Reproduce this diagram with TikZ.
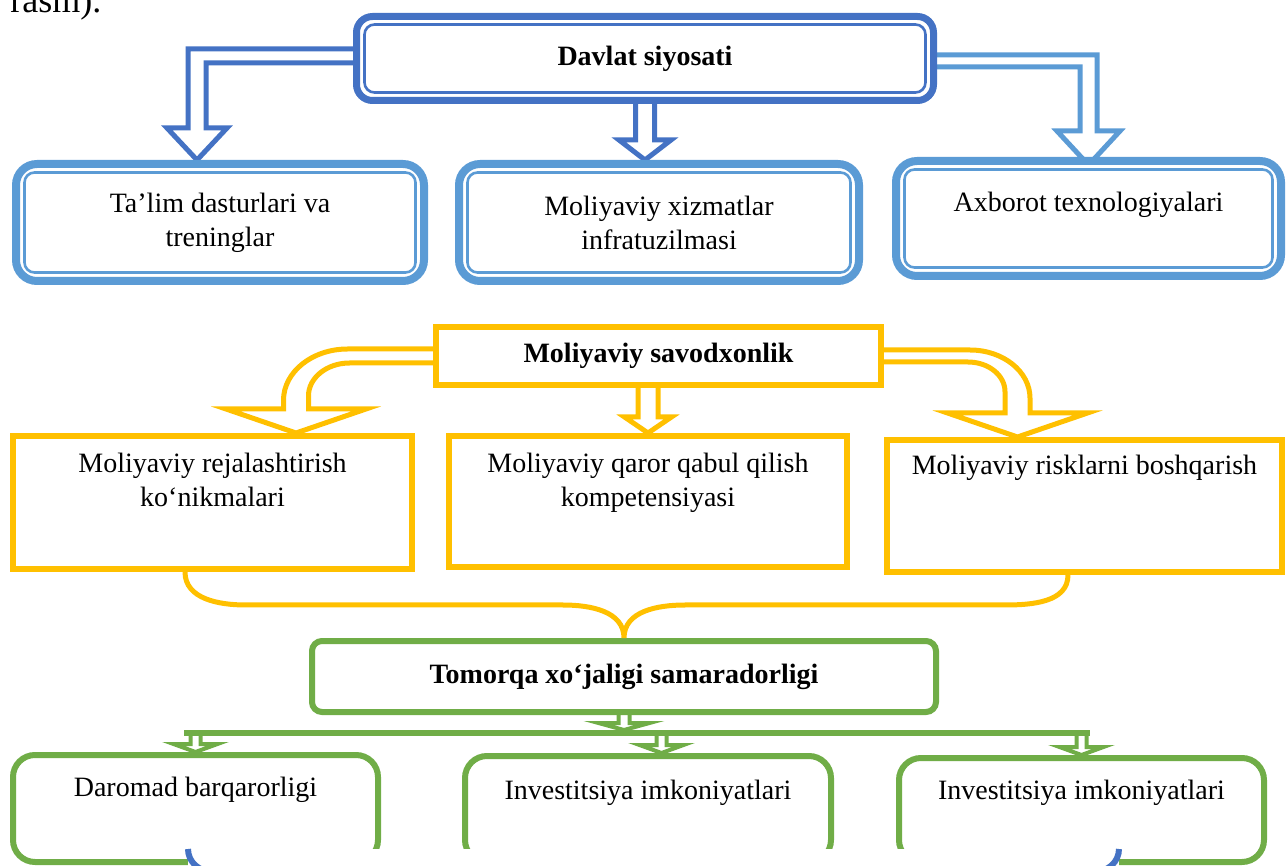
\documentclass[tikz,border=0pt]{standalone}
\usepackage{fontspec}
\setmainfont{Liberation Serif}
\usetikzlibrary{calc}
\pgfdeclarelayer{bg}
\pgfsetlayers{bg,main}

% hollow block arrows: style, start, tip, half widths, head length
\newcommand{\hollowdown}[6]{%
  \draw[#1] let \p1=(#2), \p2=(#3) in
    ({\x2-#4},\y1) -- ({\x2-#4},{\y2+#6}) -- ({\x2-#5},{\y2+#6}) -- (\x2,\y2)
    -- ({\x2+#5},{\y2+#6}) -- ({\x2+#4},{\y2+#6}) -- ({\x2+#4},\y1) -- cycle;}
\newcommand{\hollowelbow}[7]{%
  \draw[#1] let \p1=(#2), \p2=(#3) in
    (\x1,{\y1+#4}) -- ({\x2-(#5)},{\y1+#4}) -- ({\x2-(#5)},{\y2+#7})
    -- ({\x2-(#6)},{\y2+#7}) -- (\x2,\y2) -- ({\x2+(#6)},{\y2+#7})
    -- ({\x2+(#5)},{\y2+#7}) -- ({\x2+(#5)},{\y1-#4}) -- (\x1,{\y1-#4}) -- cycle;}
\newcommand{\hollowbend}[9]{%
  \draw[#1] let \p1=(#2), \p2=(#3) in
    (\x1,{\y1+#4}) -- ({\x2-(#5)+(#8)},{\y1+#4})
    .. controls ({\x2-(#5)+0.448*(#8)},{\y1+#4}) and ({\x2-(#5)},{\y1+#4-0.36*abs(#8)}) .. ({\x2-(#5)},{\y1+#4-0.8*abs(#8)})
    -- ({\x2-(#5)},{\y2+#7}) -- ({\x2-(#6)},{\y2+#7}) -- (\x2,\y2)
    -- ({\x2+(#6)},{\y2+#7}) -- ({\x2+(#5)},{\y2+#7})
    -- ({\x2+(#5)},{\y1-#4-0.8*abs(#9)})
    .. controls ({\x2+(#5)},{\y1-#4-0.36*abs(#9)}) and ({\x2+(#5)+0.448*(#9)},{\y1-#4}) .. ({\x2+(#5)+(#9)},{\y1-#4})
    -- (\x1,{\y1-#4}) -- cycle;}

\begin{document}
\begin{tikzpicture}[x=0.5pt,y=-0.5pt,
    font=\fontsize{14pt}{17pt}\selectfont,
    plainbox/.style={fill=white, align=center, inner sep=0pt},
    govbox/.style={plainbox, draw=blueD, line width=3.5pt, rounded corners=8pt},
    bluebox/.style={plainbox, draw=blueL, line width=4pt, rounded corners=10.5pt},
    goldbox/.style={plainbox, draw=gold, line width=3pt},
    goalbox/.style={plainbox, draw=leaf, line width=3pt, rounded corners=5pt},
    leafbox/.style={plainbox, draw=leaf, line width=3pt, rounded corners=11pt},
    blockD/.style={draw=blueD, line width=2.5pt, fill=white},
    blockL/.style={draw=blueL, line width=2.5pt, fill=white},
    blockG/.style={draw=gold, line width=2.5pt, fill=white},
    blockE/.style={draw=leaf, line width=2pt, fill=white},
    goldline/.style={draw=gold, line width=2.5pt},
    leafline/.style={draw=leaf, line width=3pt}]
  % Colours
  \definecolor{blueD}{RGB}{68,114,196}
  \definecolor{blueL}{RGB}{91,155,213}
  \definecolor{gold}{RGB}{255,192,0}
  \definecolor{leaf}{RGB}{112,173,71}

  \useasboundingbox (0,0) rectangle (1287,866);
  \clip (0,0) rectangle (1287,866);

  \node[anchor=base west, inner sep=0pt, font=\fontsize{18pt}{20pt}\selectfont] (caption) at (10,13) {rasm).};

  % Level 1: state policy
  \node[govbox, minimum width=288.5pt, minimum height=42pt] (gov) at (645,58.5) {\textbf{Davlat siyosati}};
  \node[bluebox, minimum width=204pt, minimum height=58.5pt] (edu) at (220,222.5) {Ta’lim dasturlari va\\treninglar};
  \node[bluebox, minimum width=200pt, minimum height=58.5pt] (infra) at (659,222.5) {Moliyaviy xizmatlar\\infratuzilmasi};
  \node[bluebox, minimum width=192.5pt, minimum height=57.5pt] (tech) at (1088.5,218.5) {Axborot texnologiyalari\\\mbox{}};

  % thin inner border of the blue boxes
  \foreach \n/\c/\d in {gov/blueD/5.75pt, edu/blueL/6.25pt, infra/blueL/6.25pt, tech/blueL/6.25pt}
    \draw[\c, line width=1.3pt, rounded corners=5pt] ([shift={(\d,-\d)}]\n.north west) rectangle ([shift={(-\d,\d)}]\n.south east);

  % Level 2: financial literacy
  \node[goldbox, minimum width=222.5pt, minimum height=29pt] (lit) at (658.5,356) {\textbf{Moliyaviy savodxonlik}};
  \node[goldbox, minimum width=199.5pt, minimum height=66.5pt] (plan) at (212.5,502.5) {Moliyaviy rejalashtirish\\ko‘nikmalari\\[5.7pt]\mbox{}};
  \node[goldbox, minimum width=199pt, minimum height=65.5pt] (decide) at (648,501.5) {Moliyaviy qaror qabul qilish\\kompetensiyasi\\[4.7pt]\mbox{}};
  \node[goldbox, minimum width=197.5pt, minimum height=66pt] (risk) at (1084.5,506) {Moliyaviy risklarni boshqarish\\[24pt]\mbox{}};

  % Level 3: household farm efficiency
  \node[goalbox, minimum width=312pt, minimum height=35.5pt] (goal) at (624,676.5) {\textbf{Tomorqa xo‘jaligi samaradorligi}};
  \node[leafbox, minimum width=182.5pt, minimum height=53.5pt] (income) at (195.5,808.5) {Daromad barqarorligi\\[4.7pt]\mbox{}};
  \node[leafbox, minimum width=183pt, minimum height=53pt] (invA) at (648,809) {Investitsiya imkoniyatlari\\[2.2pt]\mbox{}};
  \node[leafbox, minimum width=182.5pt, minimum height=52pt] (invB) at (1081.5,810) {Investitsiya imkoniyatlari\\[3.2pt]\mbox{}};

  \coordinate (bar) at ([yshift=-9pt]goal.south);
  \coordinate (bartop) at ([yshift=1.5pt]bar);
  \coordinate (barL) at (income.north |- bar);
  \coordinate (barR) at (invB.north |- bar);
  \coordinate (brace) at ([yshift=16.5pt]goal.north);

  % Block arrows behind the boxes
  \begin{pgfonlayer}{bg}
    \hollowelbow{blockD}{[shift={(5pt,1.25pt)}]gov.west}{[xshift=-11.5pt]edu.north}{3.5pt}{4.5pt}{15pt}{16pt}
    \hollowdown{blockD}{[yshift=5pt]gov.south}{gov.south |- infra.north}{4.75pt}{13pt}{10pt}
    \hollowelbow{blockL}{[shift={(-5pt,-1.25pt)}]gov.east}{[yshift=-4pt]tech.north}{3pt}{-4.25pt}{-15.75pt}{17pt}

    \hollowbend{blockG}{[xshift=4pt]lit.west}{[xshift=41.75pt]plan.north}{3.5pt}{6.25pt}{35pt}{12pt}{32pt}{20.5pt}
    \hollowdown{blockG}{[yshift=4pt]lit.south}{decide.north}{5pt}{11.75pt}{8pt}
    \hollowbend{blockG}{[xshift=-4pt]lit.east}{[xshift=-33.5pt]risk.north}{3pt}{-6.25pt}{-35pt}{12pt}{-30pt}{-18.5pt}

    \hollowdown{blockE}{[yshift=4pt]goal.south}{goal.south |- bartop}{2.75pt}{12.75pt}{3.5pt}
    \hollowdown{blockE}{bar}{income.north}{2.5pt}{11pt}{4pt}
    \hollowdown{blockE}{bar}{[xshift=6.75pt]invA.north}{2.5pt}{11pt}{4pt}
    \hollowdown{blockE}{bar}{invB.north}{2.5pt}{11pt}{4pt}
  \end{pgfonlayer}

  % green splitter bar
  \draw[leafline] ([xshift=-5.75pt]barL) -- ([xshift=4.25pt]barR);

  % yellow brace
  \draw[goldline] let \p1=([xshift=-13.75pt]plan.south), \p2=([xshift=-8.25pt]risk.south),
      \p3=(goal.north), \p4=(brace) in
    (\p1) to[out=-90,in=180] ({\x1+30.5pt},\y4) -- ({\x3-30.5pt},\y4) to[out=0,in=90] (\p3)
    to[out=90,in=180] ({\x3+30.5pt},\y4) -- ({\x2-31.5pt},\y4) to[out=0,in=-90] (\p2);

  % cut-off shape at the bottom edge
  \fill[white] (188,849) rectangle (1119,880);
  \draw[blueD, line width=3pt] (188,849) to[out=-90,in=180] (213,872) -- (1094,872) to[out=0,in=-90] (1119,849);
\end{tikzpicture}
\end{document}
